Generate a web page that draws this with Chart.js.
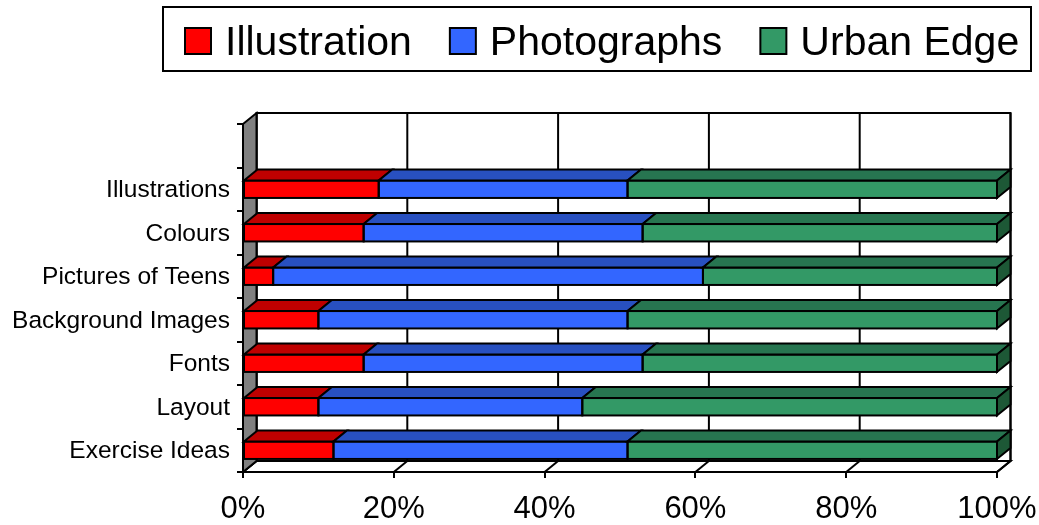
<!DOCTYPE html>
<html>
<head>
<meta charset="utf-8">
<title>Survey preferences</title>
<script src="https://cdn.jsdelivr.net/npm/chart.js@4.4.0/dist/chart.umd.min.js"></script>
<style>
  html, body { margin: 0; padding: 0; background: #ffffff; }
  #wrap { width: 1039px; height: 525px; }
</style>
</head>
<body>
<div id="wrap"><canvas id="chart" width="1039" height="525"></canvas></div>
<script>
// Rows of the chart, top to bottom
const categories = ['Illustrations', 'Colours', 'Pictures of Teens', 'Background Images', 'Fonts', 'Layout', 'Exercise Ideas'];
// Series (share of answers, %)
const seriesNames = ['Illustration', 'Photographs', 'Urban Edge'];
const illustration = [18, 16, 4, 10, 16, 10, 12];
const photographs  = [33, 37, 57, 41, 37, 35, 39];
const urbanEdge    = [49, 47, 39, 49, 47, 55, 49];
// Value axis ticks
const xTicks = [0, 20, 40, 60, 80, 100];

const FONT = "'Liberation Sans', Arial, Helvetica, sans-serif";
const DX = 13.5, DY = 11;          // depth offset of the 3-D box
const frontColors = ['#ff0000', '#3366ff', '#339966'];
const topColors   = ['#bf0000', '#2850c0', '#277550'];
const sideColors  = ['#8f0000', '#1e3c90', '#1d5836'];

function poly(ctx, pts, fill) {
  ctx.beginPath();
  ctx.moveTo(pts[0][0], pts[0][1]);
  for (let i = 1; i < pts.length; i++) ctx.lineTo(pts[i][0], pts[i][1]);
  ctx.closePath();
  if (fill) { ctx.fillStyle = fill; ctx.fill(); }
  ctx.stroke();
}

// Walls, floor, bar depth faces and the boxed legend
const box3d = {
  id: 'box3d',
  beforeDatasetsDraw(chart) {
    const { ctx, chartArea: a, scales: { x } } = chart;
    const L = a.left, R = a.right, T = a.top, B = a.bottom;
    ctx.save();
    ctx.lineWidth = 2;
    ctx.strokeStyle = '#000';
    // back wall
    poly(ctx, [[L + DX, T - DY], [R + DX, T - DY], [R + DX, B - DY], [L + DX, B - DY]], '#ffffff');
    xTicks.forEach(t => {
      const px = x.getPixelForValue(t) + DX;
      ctx.beginPath(); ctx.moveTo(px, T - DY); ctx.lineTo(px, B - DY); ctx.stroke();
    });
    // floor
    poly(ctx, [[L, B], [R, B], [R + DX, B - DY], [L + DX, B - DY]], '#ffffff');
    xTicks.forEach(t => {
      const px = x.getPixelForValue(t);
      ctx.beginPath(); ctx.moveTo(px, B); ctx.lineTo(px + DX, B - DY); ctx.stroke();
    });
    // left side wall
    poly(ctx, [[L, T], [L + DX, T - DY], [L + DX, B - DY], [L, B]], '#808080');
    ctx.restore();
  },
  afterDatasetsDraw(chart) {
    const { ctx, chartArea: a } = chart;
    const metas = chart.data.datasets.map((d, i) => chart.getDatasetMeta(i));
    ctx.save();
    ctx.lineWidth = 2;
    ctx.strokeStyle = '#000';
    ctx.lineJoin = 'miter';
    const n = chart.data.labels.length;
    for (let r = 0; r < n; r++) {
      let lastEnd = null, lastIdx = -1, yt = 0, yb = 0;
      metas.forEach((m, di) => {
        const el = m.data[r];
        const v = chart.data.datasets[di].data[r];
        if (!el || v === null || v === undefined) return;
        const x0 = Math.min(el.base, el.x), x1 = Math.max(el.base, el.x);
        yt = el.y - el.height / 2; yb = el.y + el.height / 2;
        // front outline
        ctx.strokeRect(x0, yt, x1 - x0, yb - yt);
        // top face
        poly(ctx, [[x0, yt], [x1, yt], [x1 + DX, yt - DY], [x0 + DX, yt - DY]], topColors[di]);
        lastEnd = x1; lastIdx = di;
      });
      if (lastEnd !== null) {
        poly(ctx, [[lastEnd, yt], [lastEnd + DX, yt - DY], [lastEnd + DX, yb - DY], [lastEnd, yb]], sideColors[lastIdx]);
      }
    }
    // front edge of the value axis
    ctx.beginPath(); ctx.moveTo(a.left, a.top); ctx.lineTo(a.left, a.bottom); ctx.stroke();
    ctx.restore();
  },
  afterDraw(chart) {
    const ctx = chart.ctx;
    ctx.save();
    ctx.lineWidth = 2;
    ctx.strokeStyle = '#000';
    ctx.strokeRect(163, 7, 868, 64);
    ctx.font = '41px ' + FONT;
    ctx.textBaseline = 'alphabetic';
    ctx.fillStyle = '#000';
    let cx = 185;
    chart.data.datasets.forEach((d, i) => {
      ctx.fillStyle = frontColors[i];
      ctx.fillRect(cx, 28, 26, 26);
      ctx.strokeRect(cx, 28, 26, 26);
      ctx.fillStyle = '#000';
      ctx.fillText(d.label, cx + 40, 55);
      cx += 40 + ctx.measureText(d.label).width + 38;
    });
    ctx.restore();
  }
};

const seriesValues = [illustration, photographs, urbanEdge];

new Chart(document.getElementById('chart'), {
  type: 'bar',
  data: {
    labels: [''].concat(categories),
    datasets: seriesNames.map((name, i) => ({
      label: name,
      data: [null].concat(seriesValues[i]),
      backgroundColor: frontColors[i],
      borderWidth: 0,
      barPercentage: 0.4,
      categoryPercentage: 1.0
    }))
  },
  options: {
    indexAxis: 'y',
    responsive: false,
    animation: false,
    devicePixelRatio: 1,
    layout: { padding: { top: 124, right: 42, left: 0, bottom: 0 } },
    plugins: { legend: { display: false }, tooltip: { enabled: false } },
    scales: {
      x: {
        type: 'linear',
        stacked: true,
        min: 0, max: 100,
        afterBuildTicks(scale) { scale.ticks = xTicks.map(v => ({ value: v })); },
        afterFit(scale) { scale.height = 53; scale.paddingLeft = 0; scale.paddingRight = 0; },
        ticks: {
          callback: v => v + '%',
          color: '#000',
          font: { family: FONT, size: 31 },
          padding: 13,
          maxRotation: 0
        },
        grid: { drawOnChartArea: false, drawTicks: true, tickLength: 6, color: '#000', lineWidth: 2 },
        border: { display: false }
      },
      y: {
        type: 'category',
        stacked: true,
        afterFit(scale) { scale.width = 243; scale.paddingTop = 0; scale.paddingBottom = 0; },
        ticks: { color: '#000', font: { family: FONT, size: 24.5 }, padding: 7, labelOffset: 1 },
        grid: { offset: true, drawOnChartArea: false, drawTicks: true, tickLength: 6, color: '#000', lineWidth: 2 },
        border: { display: false }
      }
    }
  },
  plugins: [box3d]
});
</script>
</body>
</html>
